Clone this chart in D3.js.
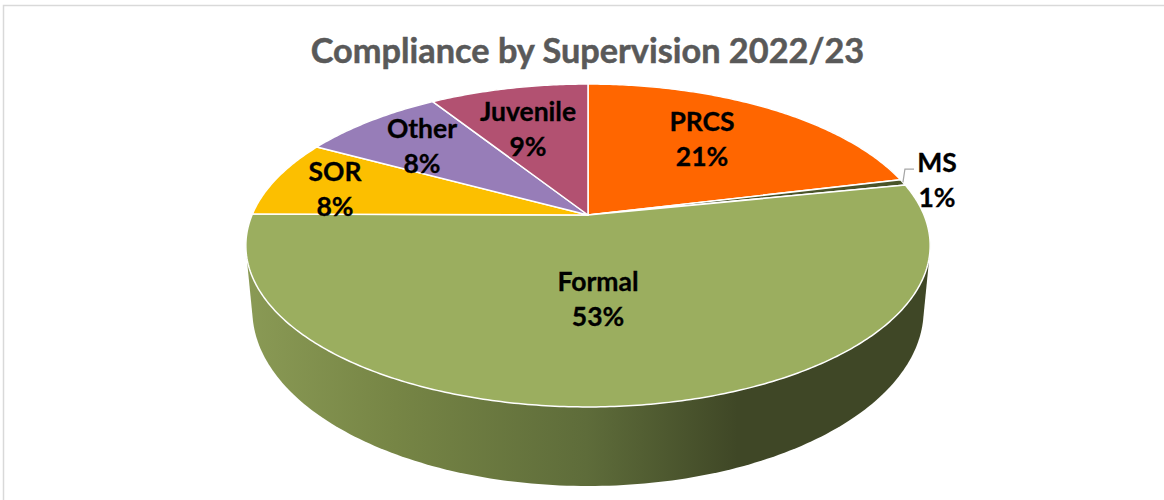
<!DOCTYPE html>
<html>
<head>
<meta charset="utf-8">
<script src="https://cdn.jsdelivr.net/npm/d3@7/dist/d3.min.js"></script>
<style>
  html, body { margin: 0; padding: 0; background: #fff; overflow: hidden; }
  text { font-family: Lato, Carlito, sans-serif; font-weight: 700; }
</style>
</head>
<body>
<div id="chart"></div>
<script>
var categories = ["PRCS", "MS", "Formal", "SOR", "Other", "Juvenile"];
var sliceValues = [21.2, 0.6, 53.3, 7.8, 8.1, 9.0];
var percentLabels = ["21%", "1%", "53%", "8%", "8%", "9%"];
var sliceColors = ["#ff6600", "#4a5429", "#9bae5f", "#fcbf00", "#977db8", "#b25171"];

// hand placed label centres, same order as categories
var labelSpots = [[702, 122], [937, 163], [598, 282], [335, 172], [422, 129], [528, 112]];

var svgWidth = 1164;
var svgHeight = 500;

var svg = d3.select("#chart")
    .append("svg")
    .attr("width", svgWidth)
    .attr("height", svgHeight)
    .style("display", "block");

// frame
svg.append("path")
    .attr("d", `M3.5,${svgHeight} V5.5 H${svgWidth}`)
    .attr("fill", "none")
    .attr("stroke", "#d9d9d9")
    .attr("stroke-width", 1.5);

svg.append("text")
    .attr("x", 587.5)
    .attr("y", 63)
    .attr("text-anchor", "middle")
    .attr("font-size", 34.3)
    .attr("fill", "#595959")
    .attr("stroke", "#595959")
    .attr("stroke-width", 0.5)
    .text("Compliance by Supervision 2022/23");

// tilted disk: perspective makes the far half shorter than the near half
var tilt = 0.1888;
var xScale = d3.scaleLinear().domain([-1, 1]).range([252, 924]);
var yScale = d3.scaleLinear().domain([-1, 1]).range([370.7, 59.3]);

function project(angle, radius, xShrink, yShrink, drop) {
    var u = Math.sin(angle) * radius;
    var v = Math.cos(angle) * radius;
    var w = 1 + tilt * v;
    return [
        xScale(0) + (xScale(u) - xScale(0)) / w * xShrink,
        yScale(0) + (yScale(v) - yScale(0)) / w * yShrink + drop
    ];
}

function onTop(angle, radius) {
    return project(angle, radius, 1, 1, 0);
}

var rimAngles = d3.range(0, 361).map(d => d * Math.PI / 180);
var topRim = rimAngles.map(a => onTop(a, 1));
var bottomRim = rimAngles.map(a => project(a, 1, 0.981, 1.09, 61.8));

var line = d3.line().curve(d3.curveLinear);

var defs = svg.append("defs");
var wallGradient = defs.append("linearGradient")
    .attr("id", "wallFill")
    .attr("gradientUnits", "userSpaceOnUse")
    .attr("x1", 246).attr("x2", 929)
    .attr("y1", 0).attr("y2", 0);
wallGradient.append("stop").attr("offset", "0%").attr("stop-color", "#8a9a55");
wallGradient.append("stop").attr("offset", "22%").attr("stop-color", "#768545");
wallGradient.append("stop").attr("offset", "50%").attr("stop-color", "#5e6c3a");
wallGradient.append("stop").attr("offset", "72%").attr("stop-color", "#3f4726");
wallGradient.append("stop").attr("offset", "100%").attr("stop-color", "#3f4726");

// side wall is the hull of both rims, the top surface covers the rest of it
svg.append("path")
    .attr("d", line(d3.polygonHull(topRim.concat(bottomRim))) + "Z")
    .attr("fill", "url(#wallFill)");

var pie = d3.pie().sort(null).value(d => d);
var slices = pie(sliceValues);

function slicePath(d) {
    var steps = Math.max(2, Math.ceil((d.endAngle - d.startAngle) * 90));
    var points = d3.range(steps + 1).map(function (i) {
        return onTop(d.startAngle + (d.endAngle - d.startAngle) * i / steps, 1);
    });
    return line([onTop(0, 0)].concat(points)) + "Z";
}

svg.selectAll(".slice")
    .data(slices)
    .enter()
    .append("path")
    .classed("slice", true)
    .attr("d", slicePath)
    .attr("fill", (d, i) => sliceColors[i])
    .attr("stroke", "#fff")
    .attr("stroke-width", 1.5)
    .attr("stroke-linejoin", "round");

// leader line for the thin MS slice
var msIndex = categories.indexOf("MS");
var msEdge = onTop((slices[msIndex].startAngle + slices[msIndex].endAngle) / 2, 1);
svg.append("path")
    .attr("d", line([msEdge, [msEdge[0] + 2, 169], [914, 169]]))
    .attr("fill", "none")
    .attr("stroke", "#a6a6a6")
    .attr("stroke-width", 1.25);

var labels = svg.selectAll(".sliceLabel")
    .data(categories)
    .enter()
    .append("text")
    .classed("sliceLabel", true)
    .attr("text-anchor", "middle")
    .attr("font-size", 26.5)
    .attr("fill", "#000")
    .attr("stroke", "#000")
    .attr("stroke-width", 0.3);

labels.append("tspan")
    .attr("x", (d, i) => labelSpots[i][0])
    .attr("y", (d, i) => labelSpots[i][1] + 9)
    .text(d => d);

labels.append("tspan")
    .attr("x", (d, i) => labelSpots[i][0])
    .attr("y", (d, i) => labelSpots[i][1] + 44)
    .text((d, i) => percentLabels[i]);
</script>
</body>
</html>
